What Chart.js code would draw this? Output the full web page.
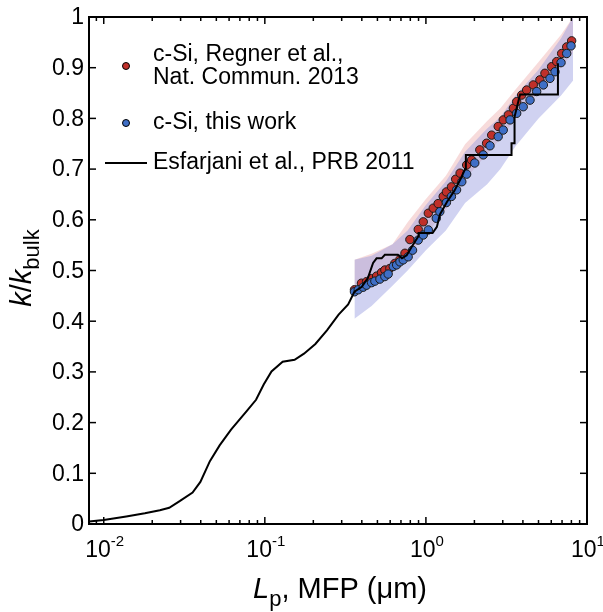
<!DOCTYPE html>
<html>
<head>
<meta charset="utf-8">
<script src="https://cdn.jsdelivr.net/npm/chart.js@4.4.1/dist/chart.umd.min.js"></script>
<style>
  html, body { margin: 0; padding: 0; background: #fff; }
  canvas { display: block; }
</style>
</head>
<body>
<canvas id="grafico" width="603" height="612"></canvas>
<script>
// Esfarjani et al., PRB 2011 (accumulation curve)
const esfX = [0.0081, 0.010, 0.0138, 0.018, 0.0223, 0.0255, 0.0296, 0.0356, 0.0398, 0.0456,
              0.0524, 0.0617, 0.0769, 0.0882, 0.0984, 0.11, 0.129, 0.153, 0.175, 0.206,
              0.243, 0.287, 0.329, 0.36, 0.40, 0.436, 0.47, 0.494, 0.531, 0.556,
              0.67, 0.71, 0.76, 0.817, 0.896, 0.9, 1.1, 1.17, 1.22, 1.35,
              1.5, 1.65, 1.75, 1.77, 3.4, 3.4, 3.55, 3.55, 3.84, 6.6, 6.6];
const esfY = [0.005, 0.008, 0.015, 0.021, 0.027, 0.032, 0.045, 0.062, 0.083, 0.124,
              0.155, 0.186, 0.222, 0.245, 0.275, 0.301, 0.320, 0.324, 0.336, 0.355,
              0.382, 0.413, 0.433, 0.458, 0.468, 0.485, 0.515, 0.524, 0.524, 0.531,
              0.531, 0.524, 0.530, 0.547, 0.567, 0.574, 0.574, 0.586, 0.610, 0.635,
              0.657, 0.682, 0.700, 0.728, 0.728, 0.751, 0.751, 0.803, 0.847, 0.847, 0.909];

// c-Si, Regner et al., Nat. Commun. 2013
const regnerX = [0.36, 0.398, 0.428, 0.46, 0.494, 0.53, 0.556, 0.597, 0.641, 0.69,
                 0.741, 0.795, 0.896, 0.963, 1.035, 1.11, 1.19, 1.28, 1.34, 1.44,
                 1.53, 1.63, 1.79, 1.92, 2.16, 2.38, 2.56, 2.81, 3.02, 3.25,
                 3.49, 3.66, 3.93, 4.22, 4.64, 5.1, 5.48, 6.03, 6.48, 6.96,
                 7.48, 8.03];
const regnerY = [0.462, 0.475, 0.478, 0.484, 0.489, 0.496, 0.501, 0.504, 0.514, 0.522,
                 0.534, 0.561, 0.581, 0.596, 0.613, 0.623, 0.632, 0.646, 0.655, 0.665,
                 0.680, 0.692, 0.708, 0.718, 0.738, 0.751, 0.767, 0.784, 0.797, 0.807,
                 0.820, 0.833, 0.846, 0.856, 0.866, 0.876, 0.889, 0.902, 0.912, 0.928,
                 0.941, 0.953];

// c-Si, this work
const thisX = [0.36, 0.38, 0.408, 0.428, 0.46, 0.482, 0.518, 0.556, 0.583, 0.627,
               0.658, 0.69, 0.723, 0.776, 0.826, 0.896, 0.963, 1.035, 1.16, 1.22,
               1.34, 1.44, 1.55, 1.67, 1.79, 2.01, 2.27, 2.5, 2.81, 3.02,
               3.33, 3.66, 4.02, 4.43, 4.87, 5.36, 5.89, 6.33, 6.9, 7.48,
               7.96];
const thisY = [0.458, 0.462, 0.467, 0.471, 0.476, 0.479, 0.483, 0.488, 0.493, 0.508,
               0.511, 0.517, 0.521, 0.527, 0.540, 0.560, 0.570, 0.580, 0.603, 0.616,
               0.634, 0.646, 0.659, 0.675, 0.690, 0.712, 0.728, 0.746, 0.764, 0.777,
               0.797, 0.810, 0.823, 0.836, 0.853, 0.866, 0.879, 0.892, 0.910, 0.928,
               0.943];

// shaded uncertainty bands
const bandX     = [0.36, 0.46, 0.62, 0.77, 1.0, 1.33, 1.75, 2.4, 2.9, 3.6, 5.0, 6.9, 8.2];
const blueLow   = [0.405, 0.430, 0.470, 0.500, 0.540, 0.579, 0.633, 0.670, 0.700, 0.745, 0.800, 0.845, 0.875];
const blueHigh  = [0.521, 0.529, 0.552, 0.579, 0.629, 0.676, 0.734, 0.780, 0.803, 0.845, 0.896, 0.958, 1.000];
const redLow    = [0.450, 0.470, 0.500, 0.530, 0.570, 0.620, 0.680, 0.730, 0.760, 0.800, 0.850, 0.900, 0.930];
const redHigh   = [0.521, 0.533, 0.552, 0.595, 0.641, 0.687, 0.749, 0.795, 0.820, 0.857, 0.911, 0.965, 1.000];

// axis ticks
const yTicks     = [0, 0.1, 0.2, 0.3, 0.4, 0.5, 0.6, 0.7, 0.8, 0.9, 1];
const yTickTexts = ["0", "0.1", "0.2", "0.3", "0.4", "0.5", "0.6", "0.7", "0.8", "0.9", "1"];
const xDecades   = [0.01, 0.1, 1, 10];
const xExpTexts  = ["-2", "-1", "0", "1"];

const pares = (xs, ys) => xs.map((v, i) => ({ x: v, y: ys[i] }));

const FONTE = '"Liberation Sans", Arial, sans-serif';

/* -------------------------------
   moldura, ticks, textos, legenda
   ------------------------------- */
const decoracao = {
    id: "decoracao",
    afterDraw(chart) {
        const { ctx, chartArea: a, scales: { x, y } } = chart;
        ctx.save();
        ctx.strokeStyle = "#000";
        ctx.fillStyle = "#000";

        const seg = (x1, y1, x2, y2) => {
            ctx.beginPath(); ctx.moveTo(x1, y1); ctx.lineTo(x2, y2); ctx.stroke();
        };

        // ticks para dentro
        ctx.lineWidth = 1.5;
        yTicks.forEach(v => {
            const py = y.getPixelForValue(v);
            seg(a.left, py, a.left + 7, py);
            seg(a.right, py, a.right - 7, py);
        });
        xDecades.forEach(d => {
            for (let m = 1; m <= 9; m++) {
                const v = d / 10 * m;
                if (v < x.min || v > x.max) continue;
                const px = x.getPixelForValue(v);
                const len = m === 1 ? 7 : 4;
                seg(px, a.bottom, px, a.bottom - len);
                seg(px, a.top, px, a.top + len);
            }
        });
        const px1 = x.getPixelForValue(10);
        seg(px1, a.bottom, px1, a.bottom - 7);

        // moldura
        ctx.lineWidth = 2;
        ctx.strokeRect(a.left, a.top, a.right - a.left, a.bottom - a.top);

        // rótulos do eixo y
        ctx.font = "23px " + FONTE;
        ctx.textAlign = "right";
        ctx.textBaseline = "middle";
        yTicks.forEach((v, i) => {
            ctx.fillText(yTickTexts[i], a.left - 5, y.getPixelForValue(v) + 1);
        });

        // rótulos do eixo x (10 com expoente)
        ctx.textBaseline = "alphabetic";
        ctx.textAlign = "left";
        xDecades.forEach((v, i) => {
            const px = x.getPixelForValue(v);
            ctx.font = "23px " + FONTE;
            const w1 = ctx.measureText("10").width;
            ctx.font = "15px " + FONTE;
            const w2 = ctx.measureText(xExpTexts[i]).width;
            const x0 = px - (w1 + w2) / 2 + 1;
            ctx.font = "23px " + FONTE;
            ctx.fillText("10", x0, 557);
            ctx.font = "15px " + FONTE;
            ctx.fillText(xExpTexts[i], x0 + w1, 546);
        });

        // título do eixo x: Lp, MFP (μm)
        const partesX = [
            { t: "L", f: "italic 29px " + FONTE, dy: 0 },
            { t: "p", f: "22px " + FONTE, dy: 8 },
            { t: ", MFP (\u03bcm)", f: "29px " + FONTE, dy: 0 }
        ];
        let larg = 0;
        partesX.forEach(p => { ctx.font = p.f; p.w = ctx.measureText(p.t).width; larg += p.w; });
        let cx = (a.left + a.right) / 2 - larg / 2 + 2;
        partesX.forEach(p => {
            ctx.font = p.f;
            ctx.fillText(p.t, cx, 598 + p.dy);
            cx += p.w;
        });

        // título do eixo y: k/kbulk
        ctx.save();
        ctx.translate(31, 268);
        ctx.rotate(-Math.PI / 2);
        const partesY = [
            { t: "k", f: "italic 29px " + FONTE, dy: 0 },
            { t: "/", f: "29px " + FONTE, dy: 0 },
            { t: "k", f: "italic 29px " + FONTE, dy: 0 },
            { t: "bulk", f: "22px " + FONTE, dy: 8 }
        ];
        larg = 0;
        partesY.forEach(p => { ctx.font = p.f; p.w = ctx.measureText(p.t).width; larg += p.w; });
        cx = -larg / 2;
        partesY.forEach(p => {
            ctx.font = p.f;
            ctx.fillText(p.t, cx, p.dy);
            cx += p.w;
        });
        ctx.restore();

        // legenda
        ctx.font = "23px " + FONTE;
        ctx.textBaseline = "middle";
        ctx.fillText("c-Si, Regner et al.,", 153, 55);
        ctx.fillText("Nat. Commun. 2013", 153, 78);
        ctx.fillText("c-Si, this work", 153, 123);
        ctx.fillText("Esfarjani et al., PRB 2011", 153, 163);

        ctx.lineWidth = 1;
        [[126, 66, "#c0302a"], [126, 123, "#3f6fc6"]].forEach(([lx, ly, cor]) => {
            ctx.beginPath();
            ctx.arc(lx, ly, 3.5, 0, Math.PI * 2);
            ctx.fillStyle = cor;
            ctx.fill();
            ctx.stroke();
        });
        ctx.lineWidth = 2;
        seg(105, 163, 147, 163);

        ctx.restore();
    }
};

new Chart(document.getElementById("grafico"), {
    type: "scatter",
    data: {
        datasets: [
            {
                label: "Esfarjani et al., PRB 2011",
                type: "line",
                data: pares(esfX, esfY),
                borderColor: "#000",
                borderWidth: 2,
                pointRadius: 0,
                tension: 0,
                fill: false
            },
            {
                label: "c-Si, this work",
                data: pares(thisX, thisY),
                backgroundColor: "#3f6fc6",
                borderColor: "#1a1a1a",
                borderWidth: 1,
                pointRadius: 4.2
            },
            {
                label: "c-Si, Regner et al., Nat. Commun. 2013",
                data: pares(regnerX, regnerY),
                backgroundColor: "#c0302a",
                borderColor: "#1a1a1a",
                borderWidth: 1,
                pointRadius: 4.2
            },
            {
                label: "faixa azul inf",
                type: "line",
                data: pares(bandX, blueLow),
                borderWidth: 0,
                pointRadius: 0,
                fill: false
            },
            {
                label: "faixa azul sup",
                type: "line",
                data: pares(bandX, blueHigh),
                borderWidth: 0,
                pointRadius: 0,
                backgroundColor: "rgba(150, 155, 225, 0.45)",
                fill: "-1"
            },
            {
                label: "faixa vermelha inf",
                type: "line",
                data: pares(bandX, redLow),
                borderWidth: 0,
                pointRadius: 0,
                fill: false
            },
            {
                label: "faixa vermelha sup",
                type: "line",
                data: pares(bandX, redHigh),
                borderWidth: 0,
                pointRadius: 0,
                backgroundColor: "rgba(235, 165, 165, 0.4)",
                fill: "-1"
            }
        ]
    },
    options: {
        responsive: false,
        animation: false,
        layout: { padding: { left: 89, top: 17, right: 16, bottom: 88 } },
        plugins: {
            legend: { display: false },
            tooltip: { enabled: false }
        },
        scales: {
            x: { type: "logarithmic", min: 0.0081, max: 10, display: false },
            y: { type: "linear", min: 0, max: 1, display: false }
        }
    },
    plugins: [decoracao]
});
</script>
</body>
</html>
